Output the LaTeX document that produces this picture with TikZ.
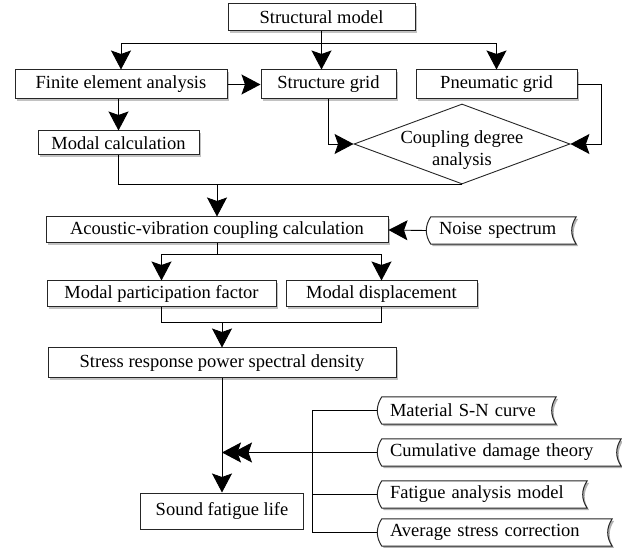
\documentclass[tikz,border=0pt]{standalone}
\usepackage{fontspec}
\setmainfont{Liberation Serif}
\usetikzlibrary{arrows.meta,shapes.geometric,shadows,backgrounds}
\newcommand\tapedraw[1]{%
  \fill[black!30] ([shift={(7,2)}]#1.north west) -- ([shift={(2,2)}]#1.north east) .. controls +(-6,9) and +(-6,-9) .. ([shift={(2,2)}]#1.south east) -- ([shift={(7,2)}]#1.south west) .. controls +(-6,-9) and +(-6,9) .. ([shift={(7,2)}]#1.north west) -- cycle;
  \draw[line width=1pt, draw=black!85, fill=white] ([xshift=5pt]#1.north west) -- (#1.north east) .. controls +(-6,9) and +(-6,-9) .. (#1.south east) -- ([xshift=5pt]#1.south west) .. controls +(-6,-9) and +(-6,9) .. ([xshift=5pt]#1.north west) -- cycle;
}
\begin{document}
\begin{tikzpicture}[x=1pt,y=-1pt,
  font=\fontsize{18.5}{22}\selectfont,
  box/.style={draw=black!85, line width=1pt, fill=white, inner sep=0pt,
    drop shadow={shadow xshift=2pt, shadow yshift=-2pt, fill=black!40, opacity=0.6}},
  plainbox/.style={draw=black!85, line width=1pt, fill=white, inner sep=0pt},
  tape/.style={inner xsep=13pt, inner ysep=0pt, minimum height=27pt, align=left},
  arr/.style={-{Stealth[length=19pt,width=20pt,inset=3.5pt]}, line width=0.9pt},
  con/.style={line width=0.9pt}]
\useasboundingbox (0,0) rectangle (622,548);

% nodes
\node[box, minimum width=187pt, minimum height=27pt] (sm) at (321.5,17.5) {Structural model};
\node[box, minimum width=212pt, minimum height=29pt] (fea) at (121,84.5) {Finite element analysis};
\node[box, minimum width=135pt, minimum height=29pt] (sg) at (328.5,84.5) {Structure grid};
\node[box, minimum width=161pt, minimum height=29pt] (pg) at (496.5,84.5) {Pneumatic grid};
\node[box, minimum width=161pt, minimum height=24pt] (mc) at (118.5,143) {Modal calculation};
\node[diamond, draw=black!85, line width=0.9pt, fill=white, minimum width=216pt, minimum height=80pt, inner sep=0pt,
  label={[align=center, yshift=-6pt]center:Coupling degree\\analysis}] (dia) at (462,144) {};
\node[box, minimum width=342pt, minimum height=26pt] (acc) at (217,230) {Acoustic-vibration coupling calculation};
\node[tape, text width=124pt] (ns) at (501,230.5) {Noise spectrum};
\node[box, minimum width=229pt, minimum height=26pt] (mpf) at (161.5,294) {Modal participation factor};
\node[box, minimum width=191pt, minimum height=26pt] (md) at (381.5,294) {Modal displacement};
\node[box, minimum width=348pt, minimum height=30pt] (srp) at (222,363) {Stress response power spectral density};
\node[plainbox, minimum width=163pt, minimum height=36pt] (sfl) at (222,511) {Sound fatigue life};
\node[tape, text width=153pt] (msn) at (466.5,410.5) {Material S-N curve};
\node[tape, text width=218pt] (cdt) at (499,452.5) {Cumulative damage theory};
\node[tape, text width=184pt] (fam) at (482,494.5) {Fatigue analysis model};
\node[tape, text width=209pt] (asc) at (494.5,532.5) {Average stress correction};

\begin{scope}[on background layer]
  \tapedraw{ns}
  \tapedraw{msn}
  \tapedraw{cdt}
  \tapedraw{fam}
  \tapedraw{asc}
\end{scope}

% connectors
\draw[con] (sm.south) -- ++(0,12) coordinate (t);
\draw[arr] (t) -| (fea.north);
\draw[arr] (t) -- (t |- sg.north);
\draw[arr] (t) -| (pg.north);
\draw[arr] (fea.east) -- (sg.west);
\draw[arr] (mc.north |- fea.south) -- (mc.north);
\draw[arr] (sg.south) |- (dia.west);
\draw[arr] (pg.east) -- ++(24,0) |- (dia.east);
\draw[con] (mc.south) |- (dia.south);
\draw[arr] (acc.north |- dia.south) -- (acc.north);
\draw[arr] (ns.west) -- (acc.east);
\draw[con] (acc.south) -- ++(0,11) coordinate (b1);
\draw[arr] (b1) -| (mpf.north);
\draw[arr] (b1) -| (md.north);
\draw[con] (mpf.south) -- ++(0,15) coordinate (b2) -| (md.south);
\draw[arr] (b2 -| srp.north) -- (srp.north);
\draw[arr] (srp.south) -- (sfl.north);
\draw[con] (msn.west) -- ++(-64,0) coordinate (bt);
\draw[con] (bt) |- (asc.west);
\draw[con] (fam.west) -- (fam.west -| bt);
\coordinate (hit) at (cdt.west -| sfl.north);
\draw[arr] (cdt.west) -- (hit);
\draw[arr] (cdt.west) -- ([xshift=11pt]hit);
\end{tikzpicture}
\end{document}
